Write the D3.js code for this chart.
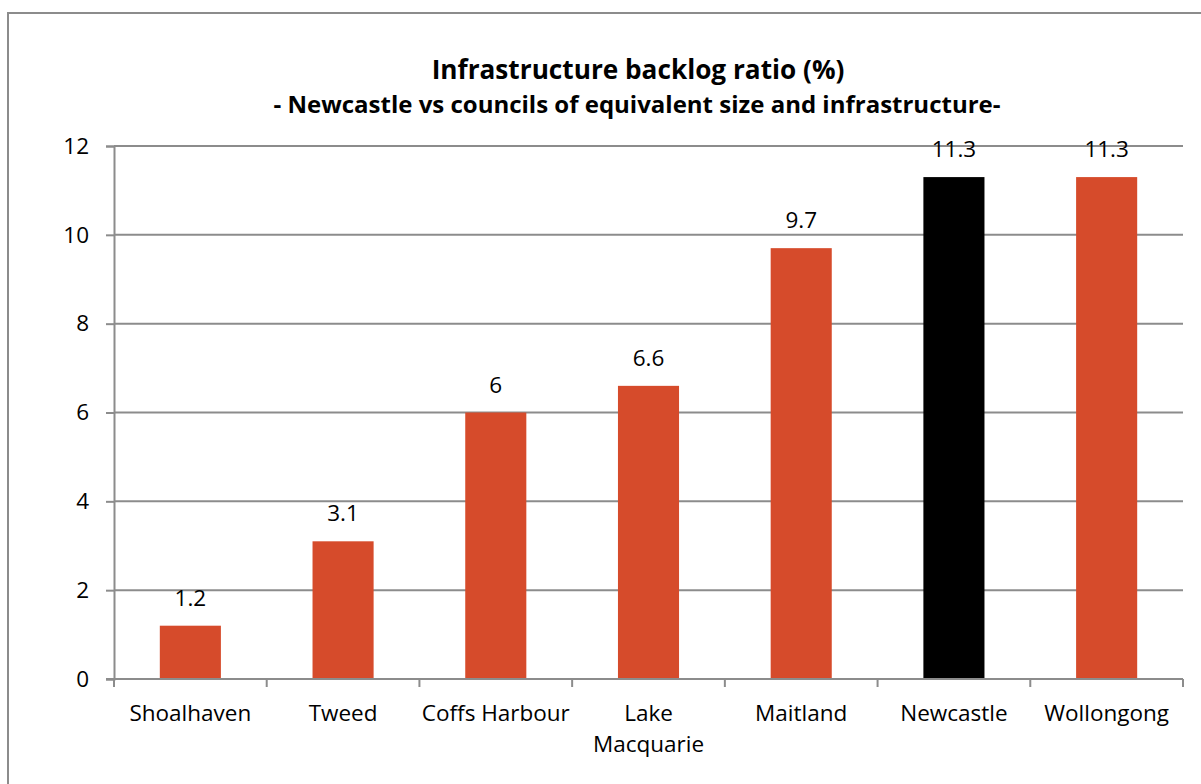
<!DOCTYPE html>
<html>
<head>
<meta charset="utf-8">
<script src="https://cdn.jsdelivr.net/npm/d3@7"></script>
<style>
  html, body { margin: 0; padding: 0; background: #fff; overflow: hidden; }
  svg { display: block; font-family: "Open Sans", sans-serif; }
</style>
</head>
<body>
<svg id="chart" width="1201" height="784"></svg>
<script>
// Infrastructure backlog ratio by council
const councils = ["Shoalhaven", "Tweed", "Coffs Harbour", "Lake Macquarie", "Maitland", "Newcastle", "Wollongong"];
const backlogRatio = [1.2, 3.1, 6, 6.6, 9.7, 11.3, 11.3];
const yTicks = [0, 2, 4, 6, 8, 10, 12];
const highlight = "Newcastle";

const titleText = "Infrastructure backlog ratio (%)";
const subtitleText = "- Newcastle vs councils of equivalent size and infrastructure-";

const svg = d3.select("#chart");
const gridColor = "#8c8c8c";
const barColor = "#d64b2b";
const labelSize = 22.5;

// outer chart frame (runs past the right/bottom edge)
svg.append("rect")
  .attr("x", 8).attr("y", 13)
  .attr("width", 1300).attr("height", 900)
  .attr("fill", "none")
  .attr("stroke", gridColor)
  .attr("stroke-width", 2);

const plot = { left: 114, right: 1183, top: 146, bottom: 679 };

const x = d3.scaleBand()
  .domain(councils)
  .range([plot.left, plot.right])
  .paddingInner(0.6)
  .paddingOuter(0.3);

const y = d3.scaleLinear()
  .domain([0, 12])
  .range([plot.bottom, plot.top]);

// titles
svg.append("text")
  .attr("x", 638).attr("y", 79)
  .attr("text-anchor", "middle")
  .attr("font-weight", "bold")
  .attr("font-size", 26.2)
  .attr("fill", "#000")
  .text(titleText);

svg.append("text")
  .attr("x", 637).attr("y", 113)
  .attr("text-anchor", "middle")
  .attr("font-weight", "bold")
  .attr("font-size", 24)
  .attr("fill", "#000")
  .text(subtitleText);

// y axis
const yAxis = d3.axisLeft(y)
  .tickValues(yTicks)
  .tickFormat(d3.format("d"))
  .tickSize(8)
  .tickPadding(17);

const gy = svg.append("g")
  .attr("transform", `translate(${plot.left},0)`)
  .call(yAxis);
gy.select(".domain").attr("stroke", gridColor).attr("stroke-width", 2);
gy.selectAll(".tick line").attr("stroke", gridColor).attr("stroke-width", 2);
gy.selectAll(".tick text")
  .attr("font-size", labelSize)
  .attr("fill", "#000")
  .attr("font-family", "Open Sans, sans-serif");

// horizontal gridlines
svg.append("g")
  .selectAll("line")
  .data(yTicks.filter(d => d > 0))
  .join("line")
  .attr("x1", plot.left).attr("x2", plot.right)
  .attr("y1", d => y(d)).attr("y2", d => y(d))
  .attr("stroke", gridColor)
  .attr("stroke-width", 2);

const rows = councils.map((c, i) => ({ c, v: backlogRatio[i] }));

// bars
svg.append("g")
  .selectAll("rect")
  .data(rows)
  .join("rect")
  .attr("x", d => x(d.c))
  .attr("y", d => y(d.v))
  .attr("width", x.bandwidth())
  .attr("height", d => y(0) - y(d.v))
  .attr("fill", d => d.c === highlight ? "#000" : barColor);

// value labels
svg.append("g")
  .selectAll("text")
  .data(rows)
  .join("text")
  .attr("x", d => x(d.c) + x.bandwidth() / 2)
  .attr("y", d => y(d.v) - 20)
  .attr("text-anchor", "middle")
  .attr("font-size", labelSize)
  .attr("fill", "#000")
  .text(d => d3.format("")(d.v));

// x axis baseline with category boundary ticks
svg.append("line")
  .attr("x1", plot.left - 8).attr("x2", plot.right)
  .attr("y1", y(0)).attr("y2", y(0))
  .attr("stroke", gridColor).attr("stroke-width", 2);

const step = x.step();
svg.append("g")
  .selectAll("line")
  .data(d3.range(councils.length + 1))
  .join("line")
  .attr("x1", i => plot.left + i * step)
  .attr("x2", i => plot.left + i * step)
  .attr("y1", y(0)).attr("y2", y(0) + 8)
  .attr("stroke", gridColor).attr("stroke-width", 2);

// category labels, wrapped only when clearly wider than a band
const wrapWidth = step + 6;
const xl = svg.append("g");
councils.forEach(c => {
  const cx = x(c) + x.bandwidth() / 2;
  const t = xl.append("text")
    .attr("x", cx).attr("y", 721)
    .attr("text-anchor", "middle")
    .attr("font-size", labelSize)
    .attr("fill", "#000");
  const words = c.split(" ");
  let line = [];
  let tspan = t.append("tspan").attr("x", cx).attr("dy", 0);
  words.forEach(w => {
    line.push(w);
    tspan.text(line.join(" "));
    if (tspan.node().getComputedTextLength() > wrapWidth && line.length > 1) {
      line.pop();
      tspan.text(line.join(" "));
      line = [w];
      tspan = t.append("tspan").attr("x", cx).attr("dy", 31).text(w);
    }
  });
});
</script>
</body>
</html>
